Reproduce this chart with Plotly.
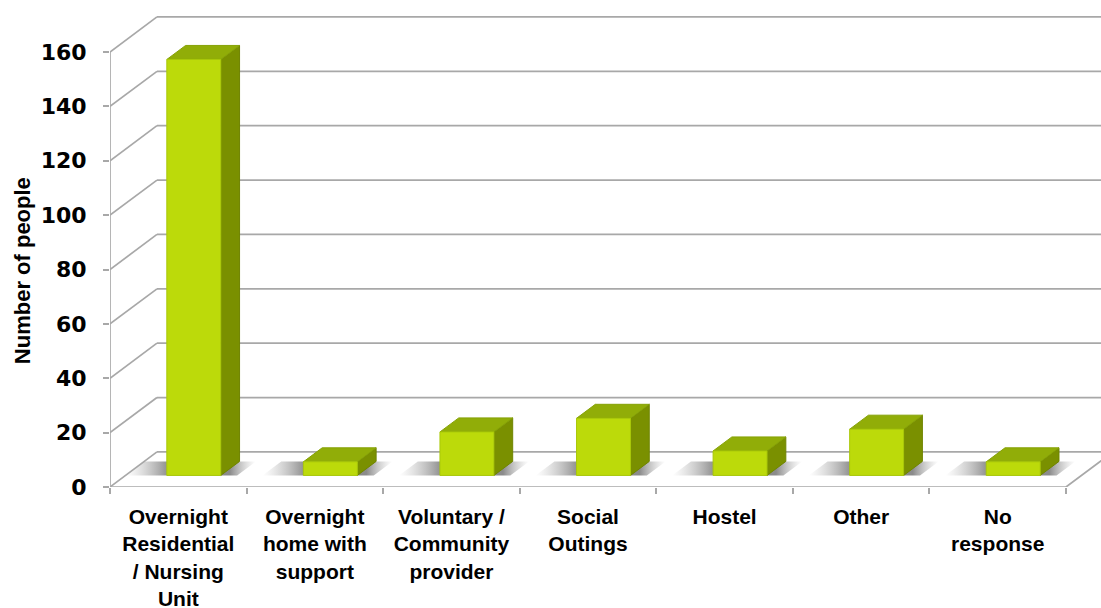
import plotly.graph_objects as go

# Survey data: where people were placed
categories = [
    "Overnight<br>Residential<br>/ Nursing<br>Unit",
    "Overnight<br>home with<br>support",
    "Voluntary /<br>Community<br>provider",
    "Social<br>Outings",
    "Hostel",
    "Other",
    "No<br>response",
]
people = [153, 5, 16, 21, 9, 17, 5]
y_ticks = [0, 20, 40, 60, 80, 100, 120, 140, 160]

# Oblique projection of the 3D box: depth offset in data units
DX = 0.344   # horizontal shift of the back plane (categories)
DY = 12.9    # vertical shift of the back plane (people)
F0, F1 = 0.33, 0.73   # bar front / back depth fraction
HALF_W = 0.1975       # half of the bar width

FRONT = "#BCDA0A"
TOP = "#91AD08"
SIDE = "#7A9000"
GRID = "#a8a8a8"
LABEL_FONT = "Liberation Sans, Arial, sans-serif"

n = len(categories)
fig = go.Figure()


def line(xs, ys, color=GRID, width=1.7):
    fig.add_trace(go.Scatter(x=xs, y=ys, mode="lines",
                             line=dict(color=color, width=width),
                             hoverinfo="skip", showlegend=False))


def poly(xs, ys, color, outline=None, gradient=None):
    fig.add_trace(go.Scatter(
        x=xs + [xs[0]], y=ys + [ys[0]], mode="lines", fill="toself",
        fillcolor=color, fillgradient=gradient,
        line=dict(color=outline or "rgba(0,0,0,0)", width=1 if outline else 0),
        hoverinfo="skip", showlegend=False))


# back wall gridlines and left wall diagonals
for v in y_ticks:
    line([DX, n + DX + 0.5], [v + DY, v + DY])
    line([0, DX], [v, v + DY])

# floor edges and front value axis
line([0, n, n + DX], [0, 0, DY])
line([0, 0], [0, y_ticks[-1]])

# soft floor shadows beside each bar
for i, v in enumerate(people):
    c = i + 0.5
    xl = c - HALF_W - 0.3
    xr = c + HALF_W + 0.12
    xs = [xl + F0 * DX, xr + F0 * DX, xr + F1 * DX, xl + F1 * DX]
    ys = [F0 * DY, F0 * DY, F1 * DY, F1 * DY]
    poly(xs, ys, "rgba(0,0,0,0)", gradient=dict(
        type="horizontal",
        colorscale=[[0, "rgba(170,170,170,0)"],
                     [0.33, "rgba(110,110,110,0.8)"],
                     [0.8, "rgba(110,110,110,0.8)"],
                     [1, "rgba(170,170,170,0)"]]))

# 3D bars: side, top, front faces
for i, v in enumerate(people):
    c = i + 0.5
    l0, r0 = c - HALF_W + F0 * DX, c + HALF_W + F0 * DX
    l1, r1 = c - HALF_W + F1 * DX, c + HALF_W + F1 * DX
    b0, b1 = F0 * DY, F1 * DY
    poly([r0, r1, r1, r0], [b0, b1, b1 + v, b0 + v], SIDE, outline="#6f8400")
    poly([l0, r0, r1, l1], [b0 + v, b0 + v, b1 + v, b1 + v], TOP, outline="#86a206")
    poly([l0, r0, r0, l0], [b0, b0, b0 + v, b0 + v], FRONT, outline="#a9c80a")

x_range = [0, 991 / 136.57]
y_range = [0, 476.7 / 2.717]

fig.update_layout(
    width=1101, height=608,
    margin=dict(l=110, r=0, t=10, b=121.3),
    paper_bgcolor="white", plot_bgcolor="white",
    showlegend=False,
    font=dict(family=LABEL_FONT, color="black"),
    xaxis=dict(
        range=x_range, showgrid=False, zeroline=False, showline=False,
        automargin=False,
        tickmode="array", tickvals=[i + 0.5 for i in range(n)],
        ticktext=[f"<b>{t}</b>" for t in categories],
        ticks="", ticklabelstandoff=15,
        tickfont=dict(size=21, family=LABEL_FONT),
        minor=dict(tickmode="linear", tick0=0, dtick=1, ticks="outside",
                   ticklen=6, tickcolor=GRID, tickwidth=1.5, showgrid=False),
        fixedrange=True,
    ),
    yaxis=dict(
        range=y_range, showgrid=False, zeroline=False, showline=False,
        automargin=False,
        tickmode="array", tickvals=y_ticks,
        ticktext=[f"<b>{t}</b>" for t in y_ticks],
        ticks="outside", ticklen=6, tickcolor=GRID, tickwidth=1.5,
        ticklabelstandoff=12,
        tickfont=dict(size=22, family="DejaVu Sans, sans-serif"),
        fixedrange=True,
    ),
    annotations=[dict(
        text="<b>Number of people</b>", textangle=-90,
        xref="paper", yref="paper", x=(22 - 110) / 991, y=(486.7 - 271) / 476.7,
        xanchor="center", yanchor="middle", showarrow=False,
        font=dict(size=22, family=LABEL_FONT, color="black"),
    )],
)

fig.write_html("out.html")
